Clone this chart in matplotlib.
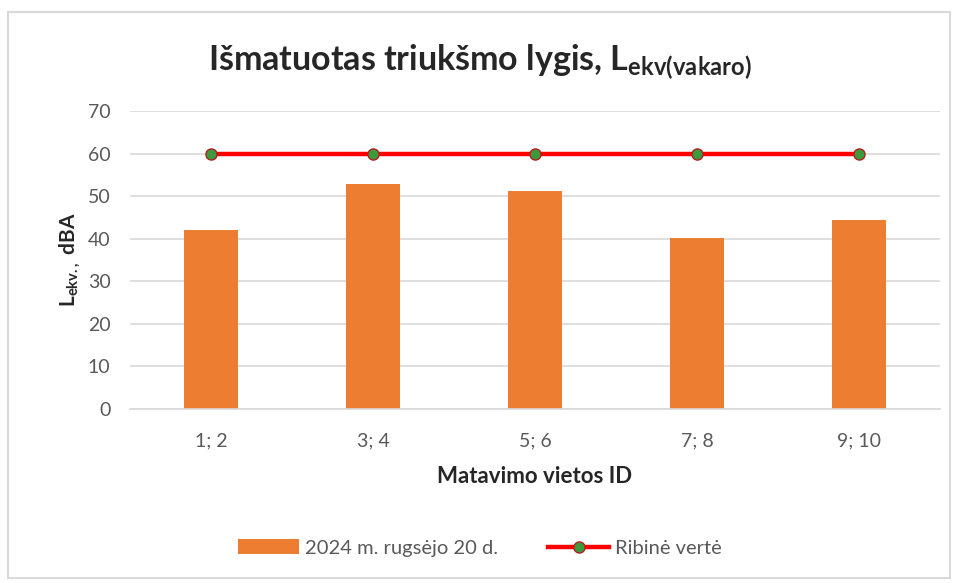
import matplotlib
matplotlib.use("Agg")
import matplotlib.pyplot as plt
from matplotlib.patches import Rectangle

categories = ["1; 2", "3; 4", "5; 6", "7; 8", "9; 10"]
measured = [42.0, 52.8, 51.3, 40.1, 44.4]
limit = [60, 60, 60, 60, 60]
yticks = [0, 10, 20, 30, 40, 50, 60, 70]

plt.rcParams['font.family'] = ['Lato', 'DejaVu Sans']
plt.rcParams['mathtext.default'] = 'regular'

fig = plt.figure(figsize=(9.6, 5.83), dpi=100)
fig.patch.set_facecolor('white')
fig.add_artist(Rectangle((8/960, 5/583), 942/960, 566/583, transform=fig.transFigure,
                         fill=False, edgecolor='#d9d9d9', linewidth=1.5))

ax = fig.add_axes([130/960, 1-409/583, 810/960, (409-111)/583])
x = list(range(len(categories)))
bars = ax.bar(x, measured, width=0.33, color='#ED7D31', label='2024 m. rugsėjo 20 d.', zorder=2)
line, = ax.plot(x, limit, color='#FF0000', linewidth=3.2, marker='o', markersize=8,
                markerfacecolor='#3C9A3C', markeredgecolor='#B02020', markeredgewidth=1,
                label='Ribinė vertė', zorder=3)

ax.set_xlim(-0.5, len(categories)-0.5)
ax.set_ylim(0, 70)
ax.set_yticks(yticks)
ax.set_xticks(x)
ax.set_xticklabels(categories)
ax.tick_params(axis='both', length=0, labelsize=14, colors='#595959')
ax.tick_params(axis='x', pad=17)
ax.tick_params(axis='y', pad=14)
ax.grid(axis='y', color='#d9d9d9', linewidth=1.2, zorder=0)
ax.set_axisbelow(True)
for s in ['top', 'right', 'left']:
    ax.spines[s].set_visible(False)
ax.spines['bottom'].set_color('#d9d9d9')
ax.spines['bottom'].set_linewidth(1.2)

ax.set_xlabel('Matavimo vietos ID', fontsize=16, fontweight='bold', color='#262626', labelpad=12)
ax.set_ylabel('L$_{ekv.,}$ dBA', fontsize=15, fontweight='bold', color='#262626', labelpad=4)

fig.text(0.5, 1-62/583, 'Išmatuotas triukšmo lygis, L$_{ekv(vakaro)}$', ha='center', va='center',
         fontsize=24.5, fontweight='bold', color='#262626')

leg = fig.legend([bars, line], ['2024 m. rugsėjo 20 d.', 'Ribinė vertė'],
                 loc='center', bbox_to_anchor=(0.5, 1-548/583), ncol=2, frameon=False,
                 fontsize=14.5, handlelength=3, columnspacing=2.5, handletextpad=0.3)
for t in leg.get_texts():
    t.set_color('#595959')

fig.savefig('out.png', dpi=100, facecolor='white')
